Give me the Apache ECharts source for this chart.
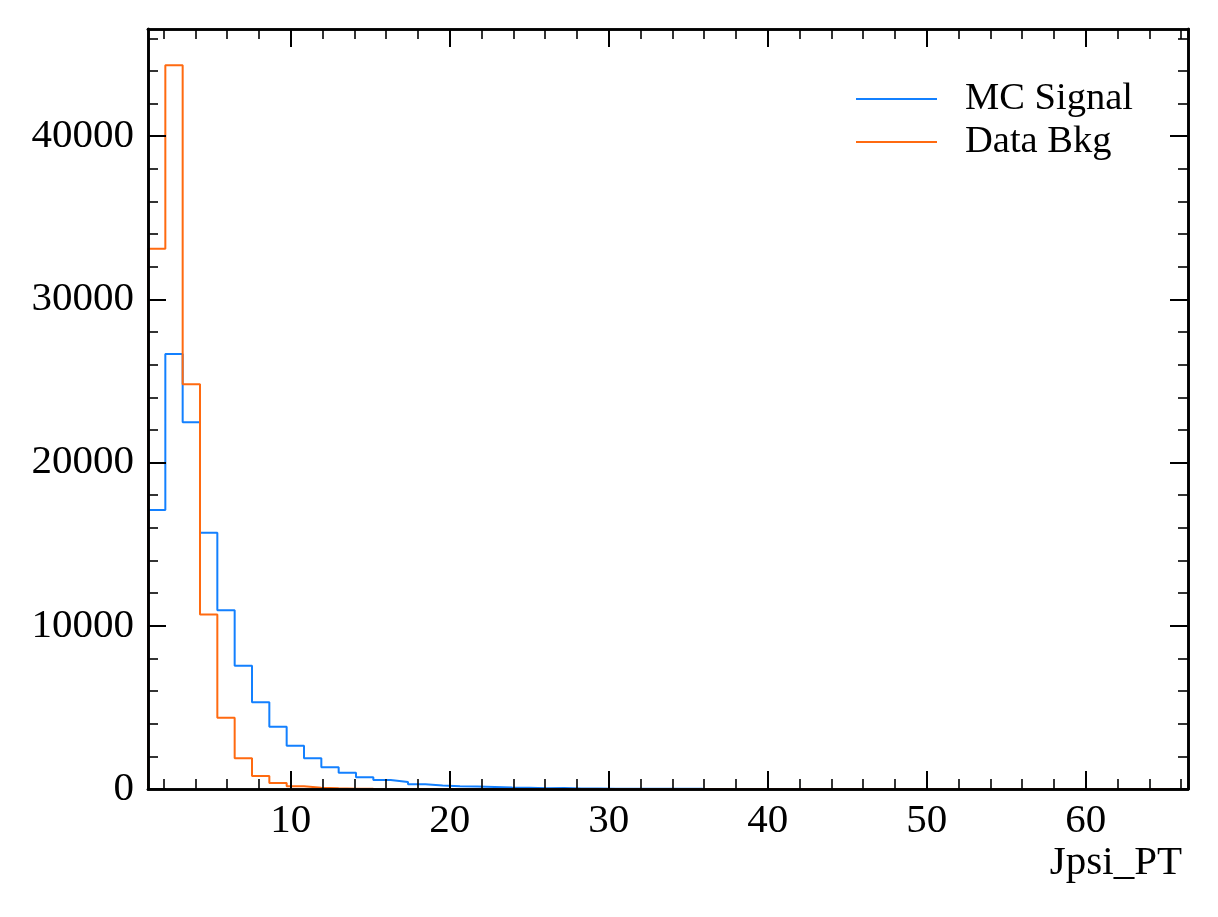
<!DOCTYPE html>
<html><head><meta charset="utf-8">
<script src="https://cdn.jsdelivr.net/npm/echarts@6/dist/echarts.min.js"></script>
<style>html,body{margin:0;padding:0;background:#fff}#c{width:1218px;height:917px}</style>
</head><body><div id="c"></div>
<script>
// Histogram range and bin count
const binLow = 1.02;
const binHigh = 66.43;
const nBins = 60;

// Bin contents (60 bins each)
const mcSignal = [17100, 26650, 22470, 15700, 10950, 7550, 5310, 3820, 2650, 1880,
  1330, 1000, 720, 550, 430, 290, 220, 170, 150, 130,
  95, 75, 45, 60, 30, 25, 22, 18, 15, 12,
  10, 8, 7, 6, 5, 4, 4, 3, 3, 2,
  2, 2, 1, 1, 1, 1, 1, 0, 1, 0,
  0, 1, 0, 0, 0, 0, 0, 0, 0, 1];
const dataBkg = [33100, 44350, 24800, 10700, 4370, 1880, 800, 370, 170, 80,
  40, 20, 10, 5, 3, 2, 1, 1, 0, 0,
  0, 0, 0, 0, 0, 0, 0, 0, 0, 0,
  0, 0, 0, 0, 0, 0, 0, 0, 0, 0,
  0, 0, 0, 0, 0, 0, 0, 0, 0, 0,
  0, 0, 0, 0, 0, 0, 0, 0, 0, 0];

// Tick values
const xMajorTicks = [10, 20, 30, 40, 50, 60];
const xMinorTicks = [2, 4, 6, 8, 12, 14, 16, 18, 22, 24, 26, 28, 32, 34, 36, 38, 42, 44, 46, 48, 52, 54, 56, 58, 62, 64, 66];
const yMajorTicks = [0, 10000, 20000, 30000, 40000];
const yMinorTicks = [2000, 4000, 6000, 8000, 12000, 14000, 16000, 18000, 22000, 24000, 26000, 28000,
  32000, 34000, 36000, 38000, 42000, 44000, 46000];
const yTop = 46570;

const xAxisTitle = 'Jpsi_PT';
const seriesNames = ['MC Signal', 'Data Bkg'];
const BLUE = '#1380ff';
const ORANGE = '#ff6a10';
const FONT = '"Liberation Serif", "DejaVu Serif", serif';

const binWidth = (binHigh - binLow) / nBins;
function stepPoints(vals) {
  const pts = [[binLow, 0]];
  vals.forEach((v, i) => {
    pts.push([binLow + i * binWidth, v]);
    pts.push([binLow + (i + 1) * binWidth, v]);
  });
  pts.push([binHigh, 0]);
  return pts;
}

function xAx(pos, ticks, len, tw, withLabels) {
  return {
    type: 'value', position: pos, min: binLow, max: binHigh, z: 10,
    axisLine: { show: true, onZero: false, lineStyle: { color: '#000', width: 2.6 } },
    axisTick: { show: true, inside: true, length: len, customValues: ticks, lineStyle: { color: '#000', width: tw } },
    axisLabel: { show: withLabels, customValues: ticks, margin: 12, color: '#000', fontFamily: FONT, fontSize: 41,
      formatter: v => String(v) },
    splitLine: { show: false }
  };
}
function yAx(pos, ticks, len, tw, withLabels) {
  return {
    type: 'value', position: pos, min: 0, max: yTop, z: 10,
    axisLine: { show: true, onZero: false, lineStyle: { color: '#000', width: 2.6 } },
    axisTick: { show: true, inside: true, length: len, customValues: ticks, lineStyle: { color: '#000', width: tw } },
    axisLabel: { show: withLabels, customValues: ticks, margin: 14, color: '#000', fontFamily: FONT, fontSize: 41,
      formatter: v => String(v) },
    splitLine: { show: false }
  };
}

const chart = echarts.init(document.getElementById('c'), null, { renderer: 'canvas' });
chart.setOption({
  animation: false,
  backgroundColor: '#fff',
  title: {
    text: xAxisTitle, right: 36, top: 843, padding: 0,
    textStyle: { color: '#000', fontFamily: FONT, fontSize: 41, fontWeight: 'normal' }
  },
  grid: { left: 148, right: 30, top: 29, bottom: 128, containLabel: false, outerBoundsMode: 'none' },
  xAxis: [
    xAx('bottom', xMajorTicks, 18, 2, true),
    xAx('bottom', xMinorTicks, 10, 1.6, false),
    xAx('top', xMajorTicks, 18, 2, false),
    xAx('top', xMinorTicks, 10, 1.6, false)
  ],
  yAxis: [
    yAx('left', yMajorTicks, 18, 2, true),
    yAx('left', yMinorTicks, 10, 1.6, false),
    yAx('right', yMajorTicks, 18, 2, false),
    yAx('right', yMinorTicks, 10, 1.6, false)
  ],
  legend: {
    orient: 'vertical', left: 856, top: 79, padding: 0,
    icon: 'rect', itemWidth: 81, itemHeight: 2, itemGap: 3,
    data: seriesNames,
    textStyle: { color: '#000', fontFamily: FONT, fontSize: 38.5, lineHeight: 40, padding: [0, 0, 0, 23] }
  },
  series: [
    { type: 'line', name: seriesNames[0], data: stepPoints(mcSignal), xAxisIndex: 0, yAxisIndex: 0,
      symbol: 'none', showSymbol: false, lineStyle: { width: 2, color: BLUE }, itemStyle: { color: BLUE }, z: 2 },
    { type: 'line', name: seriesNames[1], data: stepPoints(dataBkg), xAxisIndex: 0, yAxisIndex: 0,
      symbol: 'none', showSymbol: false, lineStyle: { width: 2, color: ORANGE }, itemStyle: { color: ORANGE }, z: 3 }
  ]
});
</script></body></html>
